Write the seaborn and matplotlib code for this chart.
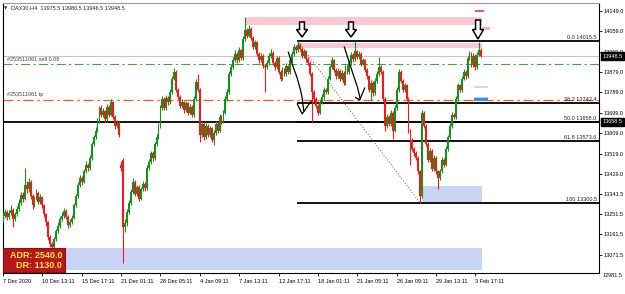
import matplotlib
matplotlib.use("Agg")
import matplotlib.pyplot as plt
import numpy as np
import pandas as pd
import seaborn as sns
from matplotlib.patches import Rectangle, Polygon

sns.set_theme(style="white")
plt.rcParams['font.family'] = ['Liberation Sans', 'DejaVu Sans']

# ---------------- data (DAX30, H4) ----------------
opens = [
    13230, 13245, 13262, 13238, 13255, 13270, 13228, 13250, 13272, 13300,
    13335, 13320, 13380, 13360, 13395, 13330, 13290, 13320, 13345, 13305,
    13325, 13290, 13250, 13215, 13150, 13120, 13105, 13140, 13175, 13200,
    13230, 13245, 13265, 13240, 13205, 13215, 13235, 13290, 13330, 13380,
    13410, 13395, 13440, 13470, 13455, 13500, 13560, 13590, 13620, 13660,
    13720, 13690, 13705, 13670, 13725, 13690, 13745, 13680, 13640, 13655,
    13470, 13490, 13195, 13210, 13260, 13300, 13350, 13395, 13340, 13370,
    13320, 13360, 13385, 13365, 13455, 13480, 13520, 13500, 13560, 13590,
    13640, 13720, 13760, 13720, 13765, 13745, 13790, 13850, 13880, 13800,
    13770, 13730, 13745, 13710, 13740, 13700, 13725, 13690, 13760, 13835,
    13800, 13600, 13650, 13590, 13640, 13600, 13630, 13580, 13610, 13650,
    13620, 13680, 13660, 13700, 13760, 13790, 13870, 13900, 13930, 13960,
    13930, 13975, 13940, 14025, 14065, 14040, 14070, 14030, 13990, 14010,
    13960, 13930, 13950, 13905, 13900, 13920, 13950, 13965, 13920, 13900,
    13940, 13880, 13850, 13890, 13870, 13905, 13880, 13930, 13960, 13990,
    13975, 14000, 13980, 13950, 13970, 13935, 13920, 13870, 13790, 13760,
    13730, 13700, 13745, 13770, 13800, 13790, 13850, 13900, 13930, 13890,
    13860, 13885, 13850, 13875, 13830, 13900, 13880, 13920, 13955, 13935,
    13970, 13945, 13960, 13915, 13930, 13890, 13860, 13800, 13830, 13785,
    13840, 13870, 13900, 13880, 13760, 13640, 13680, 13650, 13700, 13620,
    13720, 13800, 13880, 13840, 13800, 13820, 13760, 13620, 13580, 13540,
    13520, 13500, 13440, 13330, 13700, 13640, 13560, 13490, 13530, 13450,
    13500, 13440, 13410, 13440, 13490, 13470, 13540, 13590, 13640, 13690,
    13680, 13760, 13820, 13800, 13850, 13880, 13860, 13940, 13960, 13910,
    13950, 13900, 13955, 13975.5,
]
highs = [
    13262, 13275, 13270, 13268, 13290, 13278, 13262, 13285, 13318, 13350,
    13348, 13454, 13398, 13410, 13402, 13340, 13332, 13362, 13352, 13338,
    13333, 13298, 13258, 13222, 13160, 13130, 13152, 13186, 13215, 13242,
    13260, 13278, 13272, 13248, 13228, 13248, 13302, 13342, 13392, 13425,
    13418, 13452, 13485, 13478, 13512, 13572, 13602, 13635, 13675, 13730,
    13735, 13718, 13712, 13738, 13732, 13760, 13750, 13688, 13668, 13662,
    13485, 13500, 13230, 13272, 13312, 13362, 13410, 13402, 13382, 13378,
    13372, 13398, 13392, 13468, 13495, 13532, 13528, 13572, 13604, 13652,
    13732, 13775, 13768, 13778, 13772, 13802, 13862, 13895, 13888, 13808,
    13778, 13758, 13752, 13752, 13748, 13738, 13732, 13772, 13848, 13870,
    13810, 13662, 13658, 13652, 13648, 13642, 13638, 13622, 13662, 13658,
    13692, 13688, 13712, 13772, 13805, 13882, 13915, 13945, 13975, 13968,
    13988, 13982, 14038, 14118, 14075, 14085, 14078, 14038, 14022, 14018,
    13968, 13962, 13958, 13915, 13932, 13962, 13980, 13972, 13928, 13952,
    13948, 13888, 13902, 13898, 13918, 13912, 13942, 13972, 14002, 13998,
    14015, 14008, 13988, 13982, 13978, 13945, 13928, 13878, 13798, 13768,
    13738, 13758, 13782, 13812, 13810, 13862, 13912, 13945, 13938, 13898,
    13898, 13892, 13888, 13882, 13912, 13908, 13932, 13968, 13962, 14016,
    13978, 13972, 13968, 13942, 13938, 13898, 13868, 13842, 13838, 13852,
    13882, 13945, 13908, 13888, 13768, 13692, 13688, 13712, 13708, 13732,
    13812, 13892, 13888, 13848, 13832, 13828, 13768, 13628, 13588, 13548,
    13528, 13508, 13448, 13712, 13708, 13648, 13568, 13542, 13538, 13512,
    13508, 13448, 13452, 13502, 13498, 13552, 13602, 13652, 13702, 13698,
    13772, 13832, 13828, 13862, 13892, 13888, 13952, 13972, 13968, 13962,
    13958, 13968, 14012, 13986.5,
]
lows = [
    13215, 13236, 13225, 13230, 13248, 13193, 13220, 13242, 13265, 13292,
    13305, 13312, 13345, 13350, 13318, 13275, 13282, 13312, 13295, 13296,
    13280, 13240, 13200, 13138, 13105, 13092, 13082, 13132, 13166, 13192,
    13222, 13236, 13230, 13192, 13196, 13208, 13228, 13282, 13322, 13372,
    13380, 13388, 13432, 13442, 13448, 13492, 13552, 13582, 13612, 13652,
    13680, 13682, 13660, 13662, 13680, 13684, 13670, 13628, 13632, 13590,
    13440, 13035, 13170, 13200, 13250, 13292, 13342, 13330, 13332, 13308,
    13312, 13352, 13355, 13358, 13446, 13472, 13488, 13492, 13552, 13582,
    13632, 13712, 13710, 13712, 13735, 13738, 13782, 13842, 13790, 13760,
    13718, 13722, 13698, 13702, 13690, 13692, 13680, 13682, 13752, 13790,
    13570, 13590, 13580, 13582, 13590, 13592, 13570, 13556, 13602, 13610,
    13612, 13650, 13652, 13692, 13752, 13782, 13862, 13892, 13922, 13920,
    13922, 13930, 13932, 14018, 14030, 14032, 14020, 13980, 13982, 13950,
    13920, 13922, 13895, 13790, 13892, 13912, 13942, 13910, 13890, 13892,
    13870, 13840, 13842, 13860, 13862, 13870, 13872, 13922, 13952, 13965,
    13968, 13970, 13940, 13942, 13925, 13910, 13860, 13660, 13748, 13718,
    13690, 13692, 13738, 13762, 13780, 13782, 13842, 13892, 13880, 13850,
    13852, 13840, 13842, 13820, 13822, 13870, 13872, 13912, 13925, 13928,
    13935, 13938, 13905, 13908, 13880, 13850, 13790, 13755, 13775, 13778,
    13832, 13862, 13870, 13750, 13620, 13632, 13640, 13642, 13585, 13612,
    13712, 13792, 13830, 13790, 13792, 13750, 13610, 13470, 13530, 13510,
    13490, 13430, 13300, 13322, 13630, 13550, 13480, 13482, 13440, 13442,
    13430, 13360, 13402, 13432, 13460, 13462, 13532, 13582, 13632, 13670,
    13672, 13752, 13790, 13792, 13842, 13850, 13852, 13932, 13900, 13902,
    13890, 13892, 13948, 13946.5,
]
closes = [
    13245, 13262, 13238, 13255, 13270, 13228, 13250, 13272, 13300, 13335,
    13320, 13380, 13360, 13395, 13330, 13290, 13320, 13345, 13305, 13325,
    13290, 13250, 13215, 13150, 13120, 13105, 13140, 13175, 13200, 13230,
    13245, 13265, 13240, 13205, 13215, 13235, 13290, 13330, 13380, 13410,
    13395, 13440, 13470, 13455, 13500, 13560, 13590, 13620, 13660, 13720,
    13690, 13705, 13670, 13725, 13690, 13745, 13680, 13640, 13655, 13600,
    13455, 13195, 13210, 13260, 13300, 13350, 13395, 13340, 13370, 13320,
    13360, 13385, 13365, 13455, 13480, 13520, 13500, 13560, 13590, 13640,
    13720, 13760, 13720, 13765, 13745, 13790, 13850, 13880, 13800, 13770,
    13730, 13745, 13710, 13740, 13700, 13725, 13690, 13760, 13835, 13800,
    13600, 13650, 13590, 13640, 13600, 13630, 13580, 13610, 13650, 13620,
    13680, 13660, 13700, 13760, 13790, 13870, 13900, 13930, 13960, 13930,
    13975, 13940, 14025, 14065, 14040, 14070, 14030, 13990, 14010, 13960,
    13930, 13950, 13905, 13900, 13920, 13950, 13965, 13920, 13900, 13940,
    13880, 13850, 13890, 13870, 13905, 13880, 13930, 13960, 13990, 13975,
    14000, 13980, 13950, 13970, 13935, 13920, 13870, 13790, 13760, 13730,
    13700, 13745, 13770, 13800, 13790, 13850, 13900, 13930, 13890, 13860,
    13885, 13850, 13875, 13830, 13900, 13880, 13920, 13955, 13935, 13970,
    13945, 13960, 13915, 13930, 13890, 13860, 13800, 13830, 13785, 13840,
    13870, 13900, 13880, 13760, 13640, 13680, 13650, 13700, 13620, 13720,
    13800, 13880, 13840, 13800, 13820, 13760, 13620, 13580, 13540, 13520,
    13500, 13440, 13330, 13700, 13640, 13560, 13490, 13530, 13450, 13500,
    13440, 13410, 13440, 13490, 13470, 13540, 13590, 13640, 13690, 13680,
    13760, 13820, 13800, 13850, 13880, 13860, 13940, 13960, 13910, 13950,
    13900, 13955, 13975, 13948.5,
]

time_labels = ["7 Dec 2020", "10 Dec 13:11", "15 Dec 17:11", "21 Dec 01:11",
               "28 Dec 05:11", "4 Jan 09:11", "7 Jan 13:11", "12 Jan 17:11",
               "18 Jan 01:11", "21 Jan 05:11", "26 Jan 09:11", "29 Jan 13:11",
               "3 Feb 17:11"]
time_label_bars = [0, 20, 40, 60, 80, 100, 120, 140, 160, 180, 200, 220, 240]

price_ticks = [14149.0, 14059.0, 13969.0, 13879.0, 13789.0, 13699.0, 13609.0,
               13519.0, 13429.0, 13341.5, 13251.5, 13161.5, 13071.5]
bottom_price_label = 12981.5

fib_names = ["0.0", "38.2", "50.0", "61.8", "100"]
fib_prices = [14015.5, 13742.4, 13658.0, 13573.6, 13300.5]
hline_price = 13658.5
bid_price = 13948.5
sell_price = 13913.0
tp_price = 13755.0
ohlc_title = "DAX30,H4  13975.5 13986.5 13946.5 13948.5"
adr_text = "ADR: 2540.0"
dr_text = "DR: 1130.0"

# zones: (bar_start, bar_end, price_low, price_high, colour)
zones = [
    (123.1, 243.2, 14087, 14122, '#f9c8d2'),
    (149.5, 243.2, 13984, 14009, '#f9c8d2'),
    (212.7, 243.2, 13305, 13375, '#c9d5f4'),
    (0.25, 243.2, 13005, 13100, '#c9d5f4'),
]

# ---------------- figure ----------------
W, H = 625, 294
fig = plt.figure(figsize=(W / 100, H / 100), dpi=100)
fig.patch.set_facecolor('white')
ax = fig.add_axes([3 / W, 21 / H, 596 / W, 270 / H])
ax.set_facecolor('white')
ax.grid(False)

XMIN, XMAX = 0.25, 302.8
ax.set_xlim(XMIN, XMAX)
ax.set_ylim(12991, 14184)

def fxy(x, y):
    return (x / W, 1 - y / H)

# zones
for x0, x1, p0, p1, col in zones:
    ax.add_patch(Rectangle((x0, p0), x1 - x0, p1 - p0, facecolor=col,
                           edgecolor='none', zorder=1))
ax.vlines(123.1, 14065, 14122, color='#e03030', lw=0.7, zorder=2)

# reference lines
ax.axhline(bid_price, color='#c4c4c4', lw=0.8, zorder=2)
ax.axhline(sell_price, color='#44a444', lw=0.8, ls=(0, (8, 3, 2, 3)), zorder=2)
ax.axhline(tp_price, color='#ff5a1e', lw=0.9, ls=(0, (8, 3, 2, 3)), zorder=2)
ax.axhline(hline_price, color='black', lw=1.3, zorder=2)
for name, p in zip(fib_names, fib_prices):
    ax.hlines(p, 149.5, XMAX, color='black', lw=1.3, zorder=2)
    ax.text(301.6, p + 4, f"{name} {p:.1f}", ha='right', va='bottom',
            fontsize=4, color='#222222', zorder=6)
ax.plot([149.5, 212.0], [fib_prices[0], fib_prices[-1]], color='#555555',
        lw=0.7, ls=(0, (1, 2)), zorder=2)

# order labels
ax.text(1.8, sell_price + 12, "#253511061 sell 0.08", fontsize=4,
        color='#404040', va='bottom', zorder=6)
ax.text(1.8, tp_price + 12, "#253511061 tp", fontsize=4,
        color='#404040', va='bottom', zorder=6)

# candles
df = pd.DataFrame({'o': opens, 'h': highs, 'l': lows, 'c': closes})
df['bar'] = np.arange(len(df))
df['up'] = df['c'] >= df['o']
colors = np.where(df['up'], '#14901c', '#f41a1a')
ax.vlines(df['bar'], df['l'], df['h'], colors=colors, lw=0.8, zorder=3)
body_lo = df[['o', 'c']].min(axis=1)
body_h = (df['c'] - df['o']).abs().clip(lower=3)
ax.bar(df['bar'], body_h, bottom=body_lo, width=0.95, color=colors,
       linewidth=0, zorder=4)

# small markers at right
ax.add_patch(Rectangle((239.3, 13809), 7.1, 8, facecolor='#d6d6fa',
                       edgecolor='none', zorder=2))
ax.add_patch(Rectangle((239.3, 13763), 7.1, 6, facecolor='#b5d0f2',
                       edgecolor='none', zorder=2))
ax.add_patch(Rectangle((239.3, 13752), 7.1, 11, facecolor='#3b8de8',
                       edgecolor='none', zorder=2))
ax.add_patch(Rectangle((239.8, 14146), 4.5, 9, facecolor='#e8558e',
                       edgecolor='none', zorder=2))
ax.add_patch(Rectangle((243.2, 14066), 4.0, 12, facecolor='#f7b4c6',
                       edgecolor='none', zorder=2))

# hand-drawn arrows
arrow1 = ([144.9, 147.5, 149.3, 151.0, 151.9, 152.8],
          [13968, 13900, 13857, 13805, 13769, 13707])
head1 = ([149.5, 152.0, 156.6], [13738, 13694, 13751])
arrow2 = ([173.4, 175.8, 177.5, 179.0, 180.2, 181.5],
          [13990, 13925, 13879, 13840, 13809, 13760])
head2 = ([179.0, 181.2, 183.8], [13767, 13756, 13809])
for xs, ys in (arrow1, head1, arrow2, head2):
    ax.plot(xs, ys, color='black', lw=0.9, zorder=7, solid_capstyle='round')

# axes styling
for s in ax.spines.values():
    s.set_color('black')
    s.set_linewidth(0.8)
ax.spines['top'].set_color('#9a9a9a')
ax.yaxis.tick_right()
ax.set_yticks(price_ticks)
ax.set_yticklabels([f"{v:.1f}" for v in price_ticks])
ax.tick_params(axis='y', labelsize=4, length=2, width=0.6, pad=1.5,
               direction='out', colors='black', right=True, left=False)
ax.set_xticks(time_label_bars)
ax.set_xticklabels(time_labels, ha='left')
ax.tick_params(axis='x', labelsize=4, length=2, width=0.6, pad=2.5,
               direction='out', colors='black', bottom=True)
ax.set_xlabel("")
ax.set_ylabel("")

# highlighted price labels on axis
for p in (bid_price, hline_price):
    ax.text(1.006, p, f"{p:.1f}", transform=ax.get_yaxis_transform(),
            fontsize=4, color='white', va='center', ha='left', zorder=8,
            clip_on=False,
            bbox=dict(boxstyle='square,pad=0.25', fc='black', ec='black'))
ax.text(1.006, bottom_price_label, f"{bottom_price_label:.1f}",
        transform=ax.get_yaxis_transform(), fontsize=4, color='black',
        va='center', ha='left', clip_on=False)

# title
fig.text(*fxy(4, 8), "\u25BC", fontsize=3, va='center', ha='left',
         family=['DejaVu Sans'])
fig.text(*fxy(11, 8), ohlc_title, fontsize=4, va='center', ha='left')

# hollow down arrows
def down_arrow(cx, top, h, w):
    sw = w * 0.22
    hy = top + h * 0.5
    pts = [(cx - sw, top), (cx + sw, top), (cx + sw, hy), (cx + w / 2, hy),
           (cx, top + h), (cx - w / 2, hy), (cx - sw, hy)]
    return Polygon([fxy(x, y) for x, y in pts], closed=True,
                   transform=fig.transFigure, facecolor='white',
                   edgecolor='black', lw=1.1, zorder=9)

for cx, top, h, w in ((302, 22, 15, 11), (351, 22, 15, 11), (478, 20, 19, 11)):
    fig.add_artist(down_arrow(cx, top, h, w))

# ADR box
x0, y1 = fxy(3, 272)
fig.add_artist(Rectangle((x0, y1), 62 / W, 24 / H, transform=fig.transFigure,
                         facecolor='#b3191c', edgecolor='#8c1010', lw=0.8,
                         zorder=9))
fig.text(*fxy(62, 255.5), adr_text, fontsize=6.5, color='#ffe84a',
         ha='right', va='center', zorder=10, weight='bold')
fig.text(*fxy(62, 265.5), dr_text, fontsize=6.5, color='#ffe84a',
         ha='right', va='center', zorder=10, weight='bold')

fig.savefig("out.png", dpi=100, facecolor='white')
